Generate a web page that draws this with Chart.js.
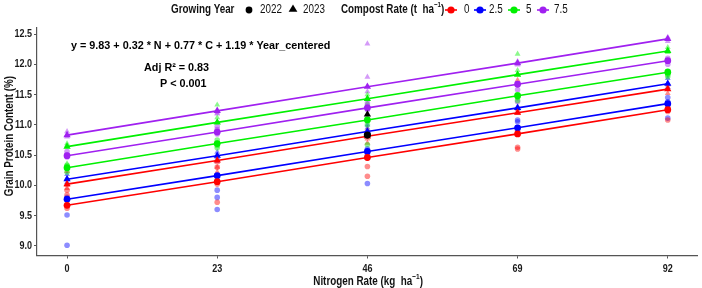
<!DOCTYPE html>
<html>
<head>
<meta charset="utf-8">
<script src="https://cdn.jsdelivr.net/npm/chart.js@4.4.1/dist/chart.umd.min.js"></script>
<style>
  html, body { margin: 0; padding: 0; background: #fff; }
  #wrap { width: 702px; height: 288px; }
</style>
</head>
<body>
<div id="wrap"><canvas id="grafico" width="702" height="288"></canvas></div>
<script>
const nLevels = [0, 23, 46, 69, 92];
const compostRates = ["0", "2.5", "5", "7.5"];
const years = ["2022", "2023"];
const yTicks = [9.0, 9.5, 10.0, 10.5, 11.0, 11.5, 12.0, 12.5];

// fitted lines, one value per N level
const fit2022_c0 = [9.67, 10.06, 10.46, 10.85, 11.25];
const fit2022_c25 = [9.77, 10.16, 10.56, 10.95, 11.35];
const fit2022_c5 = [10.29, 10.69, 11.08, 11.48, 11.87];
const fit2022_c75 = [10.49, 10.88, 11.28, 11.67, 12.06];
const fit2023_c0 = [10.02, 10.41, 10.81, 11.2, 11.59];
const fit2023_c25 = [10.1, 10.49, 10.89, 11.28, 11.68];
const fit2023_c5 = [10.64, 11.04, 11.43, 11.83, 12.22];
const fit2023_c75 = [10.83, 11.23, 11.63, 12.02, 12.42];

// observations, 3 reps per N level
const obs2022_c0 = [[9.62, 9.84, 9.92], [9.72, 10.02, 10.3], [10.15, 10.31, 10.45], [10.6, 10.63, 10.9], [11.08, 11.22, 11.3]];
const obs2022_c25 = [[9.01, 9.51, 9.8], [9.6, 9.8, 9.92], [10.03, 10.5, 10.6], [10.95, 11.05, 11.08], [11.11, 11.38, 11.45]];
const obs2022_c5 = [[10.22, 10.29, 10.33], [10.62, 10.75, 10.66], [10.67, 11.0, 11.1], [11.45, 11.5, 11.4], [11.83, 11.89, 11.8]];
const obs2022_c75 = [[10.47, 10.56, 10.5], [10.85, 10.97, 10.92], [11.25, 11.36, 11.3], [11.58, 11.68, 11.38], [12.1, 12.05, 12.0]];
const obs2023_c0 = [[9.95, 10.0, 10.23], [10.22, 10.38, 10.3], [10.77, 10.92, 10.7], [11.19, 11.25, 11.74], [11.52, 11.62, 11.66]];
const obs2023_c25 = [[10.05, 10.12, 10.18], [10.46, 10.55, 10.4], [10.85, 11.0, 10.95], [10.94, 11.3, 11.27], [11.69, 11.77, 11.62]];
const obs2023_c5 = [[10.36, 10.69, 10.66], [11.33, 11.05, 11.12], [11.44, 11.36, 11.5], [12.17, 11.84, 11.9], [12.24, 12.2, 12.28]];
const obs2023_c75 = [[10.8, 10.89, 10.84], [11.2, 11.25, 11.18], [12.34, 11.79, 11.55], [12.05, 11.99, 12.02], [12.43, 12.38, 12.45]];

// overall year means at N = 46 (black markers)
const meanN = 46;
const mean2022 = 10.83;
const mean2023 = 11.17;

const fits = {
  "2022": [fit2022_c0, fit2022_c25, fit2022_c5, fit2022_c75],
  "2023": [fit2023_c0, fit2023_c25, fit2023_c5, fit2023_c75],
};
const obs = {
  "2022": [obs2022_c0, obs2022_c25, obs2022_c5, obs2022_c75],
  "2023": [obs2023_c0, obs2023_c25, obs2023_c5, obs2023_c75],
};

const colores = ["255,0,0", "0,0,255", "0,240,0", "160,32,240"];
const formas = { "2022": "circle", "2023": "triangle" };
const FAM = '"Liberation Sans", Arial, sans-serif';
const ANGOSTO = 0.82; // narrow font look

let datasets = [];

// semi-transparent observations first
years.forEach((yr) => {
  compostRates.forEach((c, ci) => {
    let pts = [];
    obs[yr][ci].forEach((reps, ni) => {
      reps.forEach((v) => pts.push({ x: nLevels[ni], y: v }));
    });
    datasets.push({
      type: "scatter",
      label: yr + " obs " + c,
      data: pts,
      pointStyle: formas[yr],
      pointRadius: yr === "2022" ? 2.8 : 3.4,
      pointBorderWidth: 0,
      backgroundColor: `rgba(${colores[ci]},0.45)`,
      borderColor: `rgba(${colores[ci]},0.45)`,
      order: 3,
    });
  });
});

// fitted lines with opaque markers
years.forEach((yr) => {
  compostRates.forEach((c, ci) => {
    datasets.push({
      type: "line",
      label: yr + " fit " + c,
      data: fits[yr][ci].map((v, ni) => ({ x: nLevels[ni], y: v })),
      borderColor: `rgb(${colores[ci]})`,
      backgroundColor: `rgb(${colores[ci]})`,
      borderWidth: 1.6,
      pointStyle: formas[yr],
      pointRadius: yr === "2022" ? 3.4 : 4.2,
      pointBorderWidth: 0,
      fill: false,
      tension: 0,
      order: 2,
    });
  });
});

datasets.push({
  type: "scatter",
  label: "media",
  data: [{ x: meanN, y: mean2022 }, { x: meanN, y: mean2023 }],
  pointStyle: ["circle", "triangle"],
  pointRadius: [3.6, 4.2],
  pointBorderWidth: 0,
  backgroundColor: "#000",
  borderColor: "#000",
  order: 1,
});

function textoAngosto(ctx, t, x, y, align) {
  ctx.save();
  ctx.translate(x, y);
  ctx.scale(ANGOSTO, 1);
  ctx.textAlign = align || "left";
  ctx.fillText(t, 0, 0);
  const w = ctx.measureText(t).width * ANGOSTO;
  ctx.restore();
  return w;
}

function dibujarForma(ctx, forma, x, y, r, color) {
  ctx.fillStyle = color;
  ctx.beginPath();
  if (forma === "circle") {
    ctx.arc(x, y, r, 0, Math.PI * 2);
  } else {
    ctx.moveTo(x, y - r);
    ctx.lineTo(x + r * 0.95, y + r * 0.6);
    ctx.lineTo(x - r * 0.95, y + r * 0.6);
    ctx.closePath();
  }
  ctx.fill();
  ctx.fillStyle = "#111";
}

const textos = {
  id: "textos",
  afterDraw(chart) {
    const ctx = chart.ctx;
    ctx.save();
    ctx.fillStyle = "#000";
    ctx.textBaseline = "middle";

    // tick labels, narrow, placed by the scales
    const sx = chart.scales.x, sy = chart.scales.y;
    ctx.font = "bold 11px " + FAM;
    ctx.fillStyle = "#1a1a1a";
    nLevels.forEach((v) => textoAngosto(ctx, String(v), sx.getPixelForValue(v), sy.bottom + 13, "center"));
    yTicks.forEach((v) => textoAngosto(ctx, v.toFixed(1), sx.left - 5, sy.getPixelForValue(v), "right"));

    // axis titles
    ctx.font = "bold 12px " + FAM;
    ctx.fillStyle = "#111";
    let wt = ctx.measureText("Nitrogen Rate (kg  ha)").width * ANGOSTO;
    let x0 = (sx.left + sx.right) / 2 - (wt + 6) / 2;
    let w = textoAngosto(ctx, "Nitrogen Rate (kg  ha", x0, 281.5);
    ctx.font = "bold 8px " + FAM;
    let w2 = textoAngosto(ctx, "\u22121", x0 + w, 277);
    ctx.font = "bold 12px " + FAM;
    textoAngosto(ctx, ")", x0 + w + w2, 281.5);

    ctx.save();
    ctx.translate(10, 136);
    ctx.rotate(-Math.PI / 2);
    textoAngosto(ctx, "Grain Protein Content (%)", 0, 0, "center");
    ctx.restore();

    // annotation
    ctx.font = 'bold 10.8px "Liberation Sans", Arial, sans-serif';
    ctx.fillStyle = "#000";
    ctx.textAlign = "left";
    ctx.fillText("y = 9.83 + 0.32 * N + 0.77 * C + 1.19 * Year_centered", 71, 46);
    ctx.fillText("Adj R\u00B2 = 0.83", 144, 68);
    ctx.fillText("P < 0.001", 160, 84);

    // legend
    const ly = 10;
    ctx.fillStyle = "#111";
    ctx.font = "bold 12px " + FAM;
    textoAngosto(ctx, "Growing Year", 171, ly);
    ctx.font = "12px " + FAM;
    dibujarForma(ctx, "circle", 249, ly, 3.4, "#000");
    textoAngosto(ctx, "2022", 260, ly);
    dibujarForma(ctx, "triangle", 293, ly - 1, 4.6, "#000");
    textoAngosto(ctx, "2023", 303, ly);
    ctx.font = "bold 12px " + FAM;
    w = textoAngosto(ctx, "Compost Rate (t  ha", 341, ly);
    ctx.font = "bold 7.5px " + FAM;
    w2 = textoAngosto(ctx, "\u22121", 341 + w, ly - 5);
    ctx.font = "bold 12px " + FAM;
    textoAngosto(ctx, ")", 341 + w + w2, ly);
    const kx = [451, 480, 514, 543];
    const tx = [464, 489, 526, 554];
    ctx.font = "12px " + FAM;
    compostRates.forEach((c, ci) => {
      ctx.strokeStyle = `rgb(${colores[ci]})`;
      ctx.lineWidth = 1.6;
      ctx.beginPath();
      ctx.moveTo(kx[ci] - 6, ly);
      ctx.lineTo(kx[ci] + 6, ly);
      ctx.stroke();
      dibujarForma(ctx, "circle", kx[ci], ly, 3.6, `rgb(${colores[ci]})`);
      ctx.fillStyle = "#111";
      textoAngosto(ctx, c, tx[ci], ly);
    });
    ctx.restore();
  },
};

new Chart(document.getElementById("grafico"), {
  type: "scatter",
  data: { datasets: datasets },
  options: {
    responsive: false,
    animation: false,
    devicePixelRatio: 1,
    layout: { padding: { top: 28, right: 1, left: 0, bottom: 0 } },
    plugins: {
      legend: { display: false },
      tooltip: { enabled: false },
    },
    scales: {
      x: {
        type: "linear",
        min: -4.6,
        max: 96.6,
        afterBuildTicks: (s) => {
          s.ticks = nLevels.map((v) => ({ value: v }));
        },
        afterFit: (s) => {
          s.height = 32.5;
        },
        ticks: { display: false },
        grid: { drawOnChartArea: false, drawTicks: true, tickLength: 3, color: "#555" },
        border: { display: true, color: "#555", width: 1.2 },
      },
      y: {
        type: "linear",
        min: 8.84,
        max: 12.6,
        afterBuildTicks: (s) => {
          s.ticks = yTicks.map((v) => ({ value: v }));
        },
        afterFit: (s) => {
          s.width = 37;
        },
        ticks: { display: false },
        grid: { drawOnChartArea: false, drawTicks: true, tickLength: 3, color: "#555" },
        border: { display: true, color: "#555", width: 1.2 },
      },
    },
  },
  plugins: [textos],
});
</script>
</body>
</html>
